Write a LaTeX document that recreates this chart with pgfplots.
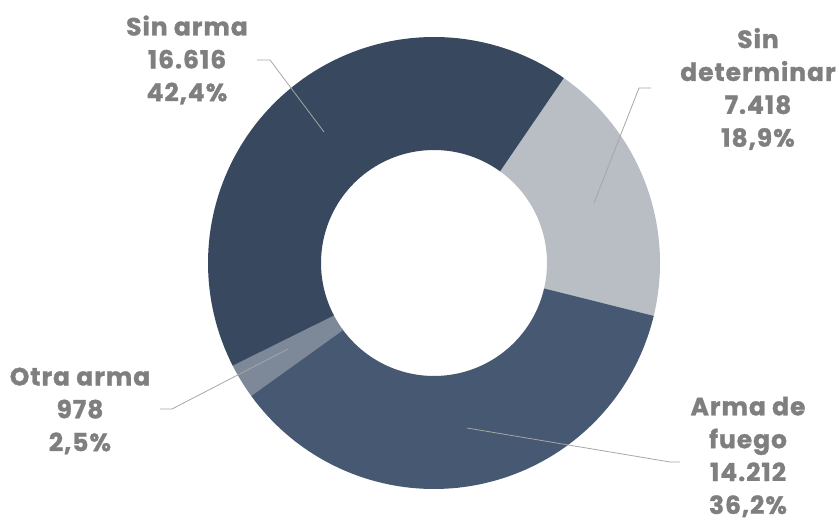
\documentclass[border=0pt]{standalone}
\usepackage{pgfplots}
\pgfplotsset{compat=1.18}
\usepackage{pgfplotstable}
\usepackage{fontspec}
\setmainfont{Poppins}[BoldFeatures={FakeBold=1.2, LetterSpace=4}]
\definecolor{cSinArma}{HTML}{38495F}
\definecolor{cSinDet}{HTML}{B9BDC4}
\definecolor{cFuego}{HTML}{475872}
\definecolor{cOtra}{HTML}{7D8899}
\definecolor{cText}{HTML}{7F7F7F}
\definecolor{cLine}{HTML}{A6A6A6}

% casos por tipo de arma (orden horario desde 54.7 grados)
\pgfplotstableread{
tipo value
SinDet 7418
Fuego 14212
Otra 978
SinArma 16616
}\armas

\begin{document}
\begin{tikzpicture}
\pgfplotstablegetelem{0}{value}\of\armas \let\vA\pgfplotsretval
\pgfplotstablegetelem{1}{value}\of\armas \let\vB\pgfplotsretval
\pgfplotstablegetelem{2}{value}\of\armas \let\vC\pgfplotsretval
\pgfplotstablegetelem{3}{value}\of\armas \let\vD\pgfplotsretval
\edef\tot{\fpeval{\vA+\vB+\vC+\vD}}
\def\aA{54.7}
\edef\aB{\fpeval{round(\aA-360*\vA/\tot,3)}}
\edef\aC{\fpeval{round(\aB-360*\vB/\tot,3)}}
\edef\aD{\fpeval{round(\aC-360*\vC/\tot,3)}}
\edef\aE{\fpeval{round(\aD-360*\vD/\tot,3)}}
% small overlap so no seam shows between slices
\edef\bA{\fpeval{\aA+0.4}}
\edef\bB{\fpeval{\aB-0.4}}
\edef\bC{\fpeval{\aC-0.4}}
\edef\bD{\fpeval{\aD-0.4}}
\begin{axis}[
  width=839bp, height=522bp, scale only axis,
  xmin=0, xmax=839, ymin=0, ymax=522,
  hide axis, clip=false,
  every axis plot/.append style={line width=113bp, line cap=butt, samples=90, variable=\t},
]
\addplot[cSinDet, domain=\bA:\bB] ({434+169.5*cos(\t)},{259+169.5*sin(\t)});
\addplot[cFuego, domain=\aB:\bC] ({434+169.5*cos(\t)},{259+169.5*sin(\t)});
\addplot[cOtra, domain=\aC:\bD, samples=10] ({434+169.5*cos(\t)},{259+169.5*sin(\t)});
\addplot[cSinArma, domain=\aD:\aE] ({434+169.5*cos(\t)},{259+169.5*sin(\t)});

\draw[cLine, line width=0.8pt] (axis cs:257,462) -- (axis cs:270,462) -- (axis cs:324,390);
\draw[cLine, line width=0.8pt] (axis cs:651,434) -- (axis cs:639,434) -- (axis cs:594,319);
\draw[cLine, line width=0.8pt] (axis cs:160,113) -- (axis cs:172,113) -- (axis cs:288,173);
\draw[cLine, line width=0.8pt] (axis cs:467,94) -- (axis cs:670,60) -- (axis cs:680,60);

\tikzset{lbl/.style={text=cText, align=center, font=\fontsize{25}{33}\selectfont\bfseries, inner sep=0pt}}
\node[lbl] at (axis cs:187,462) {Sin arma\\16.616\\42,4\%};
\node[lbl] at (axis cs:758,433) {Sin\\determinar\\7.418\\18,9\%};
\node[lbl] at (axis cs:80,111) {Otra arma\\978\\2,5\%};
\node[lbl] at (axis cs:748,65) {Arma de\\fuego\\14.212\\36,2\%};

\coordinate (bl) at (axis cs:0,0);
\coordinate (tr) at (axis cs:839,522);
\end{axis}
\pgfresetboundingbox
\path (bl) rectangle (tr);
\end{tikzpicture}
\end{document}
